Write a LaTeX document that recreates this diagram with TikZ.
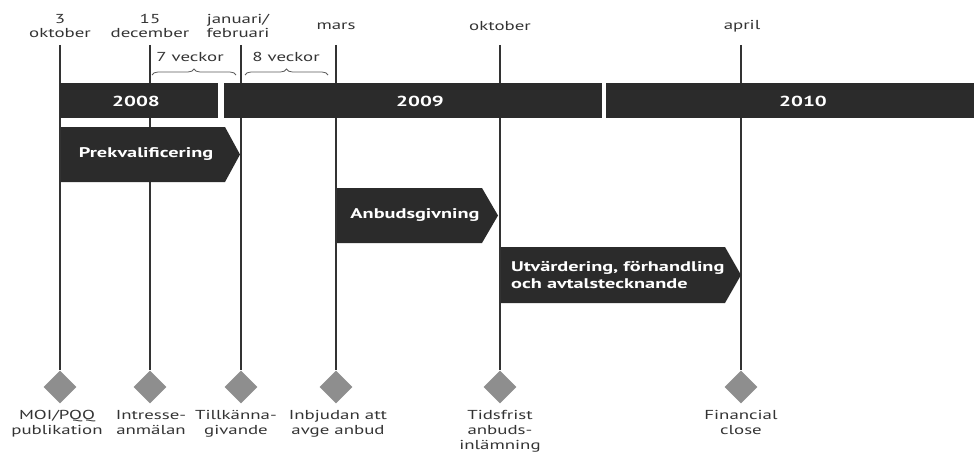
\documentclass[tikz,border=0pt]{standalone}
\usepackage{fontspec}
\setmainfont{PT Sans}[FakeStretch=1.45]
\usetikzlibrary{shapes.geometric,decorations.pathreplacing}
\definecolor{barcol}{HTML}{2B2B2B}
\definecolor{linecol}{HTML}{333333}
\definecolor{diacol}{HTML}{8E8E8E}
\definecolor{txtcol}{HTML}{333333}
\tikzset{
  datelabel/.style={font=\fontsize{13}{14.5}\selectfont, text=txtcol, align=center, inner sep=0pt},
  milestone/.style={diamond, fill=diacol, minimum width=33pt, minimum height=33pt, inner sep=0pt},
  eventlabel/.style={font=\fontsize{13}{15}\selectfont, text=txtcol, align=center, anchor=north, inner sep=0pt},
  yearbar/.style={fill=barcol},
  yeartext/.style={font=\bfseries\fontsize{14.5}{16}\selectfont, text=white, inner sep=0pt},
  phasefill/.style={fill=barcol},
  phasetext/.style={font=\bfseries\fontsize{14}{17.5}\selectfont, text=white, inner sep=0pt},
  timeline/.style={draw=linecol, line width=2.5pt},
  spanbrace/.style={draw=txtcol!80, line width=0.8pt, decorate, decoration={brace, amplitude=6pt}},
  spantext/.style={font=\fontsize{13}{15}\selectfont, text=txtcol, inner sep=0pt},
}
\begin{document}
\begin{tikzpicture}[x=1pt, y=-1pt]
\useasboundingbox (0,0) rectangle (974,452);

% date labels above the timeline
\node[datelabel] (d1) at (60,26) {3\\oktober};
\node[datelabel] (d2) at (150,26) {15\\december};
\node[datelabel] (d3) at (238,26) {januari/\\februari};
\node[datelabel] (d4) at (336,26) {mars};
\node[datelabel] (d5) at (500,26) {oktober};
\node[datelabel] (d6) at (742,26) {april};

% line tops
\coordinate (t1) at (60,45);
\coordinate (t2) at (150,45);
\coordinate (t3) at (241,45);
\coordinate (t4) at (336,45);
\coordinate (t5) at (500,45);
\coordinate (t6) at (741,45);

% milestones
\node[milestone] (m1) at (60,387) {};
\node[milestone] (m2) at (150,387) {};
\node[milestone] (m3) at (241,387) {};
\node[milestone] (m4) at (336,387) {};
\node[milestone] (m5) at (500,387) {};
\node[milestone] (m6) at (741,387) {};

% vertical lines
\foreach \i in {1,...,6} \draw[timeline] (t\i) -- (m\i.north);

% milestone captions
\node[eventlabel] (e1) at (57,410) {MOI/PQQ\\publikation};
\node[eventlabel] (e2) at (151,410) {Intresse-\\anmälan};
\node[eventlabel] (e3) at (236,410) {Tillkänna-\\givande};
\node[eventlabel] (e4) at (338,410) {Inbjudan att\\avge anbud};
\node[eventlabel] (e5) at (500,410) {Tidsfrist\\anbuds-\\inlämning};
\node[eventlabel] (e6) at (741,410) {Financial\\close};

% week spans
\coordinate (b1a) at (152,75);
\coordinate (b1b) at (236,75);
\coordinate (b2a) at (245,75);
\coordinate (b2b) at (328,75);
\draw[spanbrace] (b1a) -- (b1b);
\draw[spanbrace] (b2a) -- (b2b);
\node[spantext] (w1) at (190,57) {7 veckor};
\node[spantext] (w2) at (286,57) {8 veckor};

% year bars
\fill[yearbar] (60,83) rectangle (218,118);
\fill[yearbar] (224,83) rectangle (602,118);
\fill[yearbar] (606,83) rectangle (974,118);
\node[yeartext] (y1) at (136,101) {2008};
\node[yeartext] (y2) at (420,101) {2009};
\node[yeartext] (y3) at (803,101) {2010};

% phases
\fill[phasefill] (61,127) -- (225,127) -- (240,154.5) -- (225,182) -- (61,182) -- cycle;
\node[phasetext] (p1) at (146,154.5) {Prekvalificering};
\fill[phasefill] (337,188) -- (482,188) -- (498,215.5) -- (482,243) -- (337,243) -- cycle;
\node[phasetext] (p2) at (415,215.5) {Anbudsgivning};
\fill[phasefill] (501,247) -- (725,247) -- (741,275) -- (725,303) -- (501,303) -- cycle;
\node[phasetext, align=left, anchor=west] (p3) at (511,275) {Utvärdering, förhandling\\och avtalstecknande};
\end{tikzpicture}
\end{document}
